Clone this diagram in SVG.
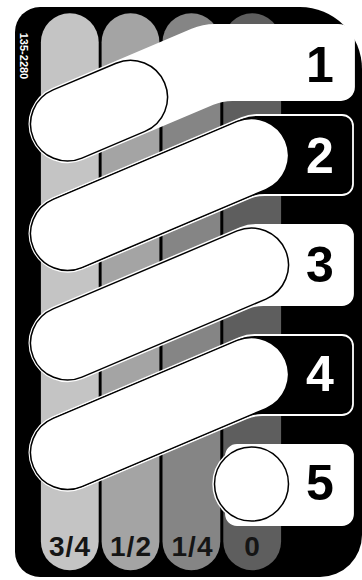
<svg xmlns="http://www.w3.org/2000/svg" width="362" height="580" viewBox="0 0 362 580">
<style>
.tabw{fill:#fff;stroke:#fff;stroke-width:1.8;stroke-linejoin:round}
.tabb{fill:#000;stroke:#fff;stroke-width:1.8;stroke-linejoin:round}
.pill{fill:#fff;stroke:#000;stroke-width:1.5}
.num{font-family:"Liberation Sans",Arial,sans-serif;font-weight:bold;font-size:50px;text-anchor:middle}
.lab{font-family:"Liberation Sans",Arial,sans-serif;font-weight:bold;font-size:28px;letter-spacing:1px;text-anchor:middle;fill:#151515}
.code{font-family:"Liberation Sans",Arial,sans-serif;font-weight:bold;font-size:11px;text-anchor:middle;fill:#fff}
</style>
<rect width="362" height="580" fill="#fff"/>
<path id="plate" d="M15,32 A25,25 0 0 1 40,7 H300 A62,62 0 0 1 362,69 V535 A42,42 0 0 1 320,577 H40 A25,25 0 0 1 15,552 Z" fill="#000"/>
<g id="columns">
<g id="col-34"><rect x="40.9" y="13.3" width="57.8" height="557" rx="28.9" fill="#c4c4c4"/><text class="lab" x="70" y="555.5">3/4</text></g>
<g id="col-12"><rect x="101.6" y="13.3" width="57.8" height="557" rx="28.9" fill="#a4a4a4"/><text class="lab" x="131" y="555.5">1/2</text></g>
<g id="col-14"><rect x="162.5" y="13.3" width="57.8" height="557" rx="28.9" fill="#858585"/><text class="lab" x="192.5" y="555.5">1/4</text></g>
<g id="col-0"><rect x="223.3" y="13.3" width="57.8" height="557" rx="28.9" fill="#5e5e5e"/><text class="lab" x="252.5" y="555.5">0</text></g>
</g>
<text class="code" transform="translate(19.5,56) rotate(90)">135-2280</text>
<g id="pos1">
<path class="tabw" d="M52.55,88.74 L191.85,29.68 Q202.9,25 214.9,25 H338 A16,16 0 0 1 354,41 V87 A13,13 0 0 1 341,100 H232.2 Q222.2,100 213,103.9 L82.45,159.26 A38.3,38.3 0 0 1 52.55,88.74 Z"/>
<path class="pill" d="M53.06,89.93 L116.06,63.23 A37,37 0 0 1 144.94,131.37 L81.94,158.07 A37,37 0 0 1 53.06,89.93 Z"/>
<text class="num" x="320" y="82" fill="#000">1</text>
</g>
<g id="pos2">
<path class="tabb" d="M52.55,198.24 L241.53,118.12 Q248.9,115 256.9,115 H342 A11,11 0 0 1 353,126 V184 A11,11 0 0 1 342,195 H264.5 Q256.5,195 249.13,198.12 L82.45,268.76 A38.3,38.3 0 0 1 52.55,198.24 Z"/>
<path class="pill" d="M53.06,199.43 L237.06,121.43 A37,37 0 0 1 265.94,189.57 L81.94,267.57 A37,37 0 0 1 53.06,199.43 Z"/>
<text class="num" x="320" y="173" fill="#fff">2</text>
</g>
<g id="pos3">
<path class="tabw" d="M52.55,307.74 L240.33,228.12 Q247.7,225 255.7,225 H342 A11,11 0 0 1 353,236 V294 A11,11 0 0 1 342,305 H263.3 Q255.3,305 247.93,308.12 L82.45,378.26 A38.3,38.3 0 0 1 52.55,307.74 Z"/>
<path class="pill" d="M53.06,308.93 L237.06,230.93 A37,37 0 0 1 265.94,299.07 L81.94,377.07 A37,37 0 0 1 53.06,308.93 Z"/>
<text class="num" x="320" y="282" fill="#000">3</text>
</g>
<g id="pos4">
<path class="tabb" d="M52.55,417.24 L239.23,338.12 Q246.6,335 254.6,335 H342 A11,11 0 0 1 353,346 V404 A11,11 0 0 1 342,415 H262.1 Q254.1,415 246.73,418.12 L82.45,487.76 A38.3,38.3 0 0 1 52.55,417.24 Z"/>
<path class="pill" d="M53.06,418.43 L237.06,340.43 A37,37 0 0 1 265.94,408.57 L81.94,486.57 A37,37 0 0 1 53.06,418.43 Z"/>
<text class="num" x="320" y="391" fill="#fff">4</text>
</g>
<g id="pos5">
<rect class="tabw" x="226" y="445" width="127" height="80" rx="11"/>
<circle class="tabw" cx="251.5" cy="484" r="38.3"/>
<circle class="pill" cx="251.5" cy="484" r="37"/>
<text class="num" x="320" y="500" fill="#000">5</text>
</g>
</svg>
